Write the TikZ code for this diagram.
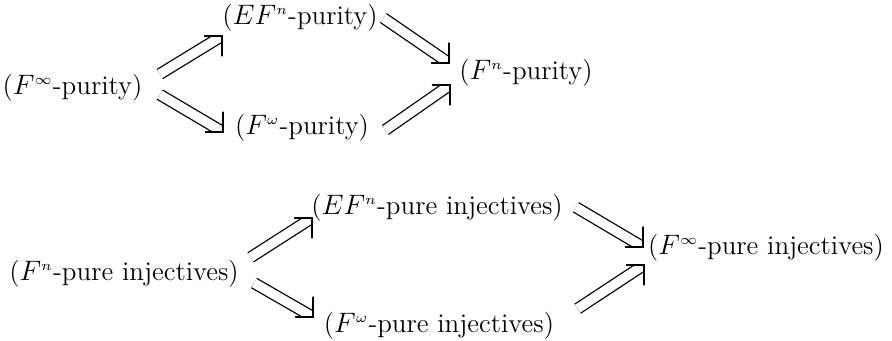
\documentclass[tikz,border=0pt]{standalone}
\usepackage{amsmath}
\usepackage{amssymb}

\tikzset{
  lbl/.style={inner sep=0pt, font=\fontsize{11.5}{14}\selectfont},
  dbl/.style={double, double distance=4pt, line width=0.55pt},
  hd/.style={line width=0.55pt, line cap=round},
}

% double arrow with a square head: #1 tail, #2 tip, #3 = -1 (up) or 1 (down)
\newcommand{\dimp}[3]{%
  \begin{scope}
    \clip (#2) rectangle ++(-2,#3*2);
    \draw[dbl] (#1) -- (#2);
  \end{scope}
  \draw[hd] ([xshift=-7.5pt]#2) -- (#2) -- ([yshift=#3*8.5pt]#2);}
\newcommand{\sps}[1]{^{\scriptscriptstyle #1}}

\begin{document}
\begin{tikzpicture}
  \useasboundingbox (0,0) rectangle (13.38,-5.115);

  % purity
  \node[lbl] (inf) at (1.088,-1.32) {($F\sps{\infty}$-purity)};
  \node[lbl] (efn) at (4.5,-0.27) {($EF\sps{n}$-purity)};
  \node[lbl] (om) at (4.53,-1.92) {($F\sps{\omega}$-purity)};
  \node[lbl] (fn) at (7.89,-1.095) {($F\sps{n}$-purity)};

  \coordinate (t1) at ([shift={(1.31,0.21)}]inf.center);
  \coordinate (h1) at ([shift={(-1.17,-0.27)}]efn.center);
  \coordinate (t2) at ([shift={(1.31,-0.10)}]inf.center);
  \coordinate (h2) at ([shift={(-1.185,-0.06)}]om.center);
  \coordinate (t3) at ([shift={(1.25,0)}]efn.center);
  \coordinate (h3) at ([shift={(-1.155,0.15)}]fn.center);
  \coordinate (t4) at ([shift={(1.25,-0.03)}]om.center);
  \coordinate (h4) at ([shift={(-1.14,-0.18)}]fn.center);

  \dimp{t1}{h1}{-1}
  \dimp{t2}{h2}{1}
  \dimp{t3}{h3}{1}
  \dimp{t4}{h4}{-1}

  % pure injectives
  \node[lbl] (fnp) at (1.86,-4.11) {($F\sps{n}$-pure injectives)};
  \node[lbl] (efnp) at (6.555,-3.12) {($EF\sps{n}$-pure injectives)};
  \node[lbl] (omp) at (6.585,-4.89) {($F\sps{\omega}$-pure injectives)};
  \node[lbl] (infp) at (11.49,-3.72) {($F\sps{\infty}$-pure injectives)};

  \coordinate (t5) at ([shift={(1.90,0.25)}]fnp.center);
  \coordinate (h5) at ([shift={(-1.875,-0.15)}]efnp.center);
  \coordinate (t6) at ([shift={(1.95,-0.135)}]fnp.center);
  \coordinate (h6) at ([shift={(-1.89,0.135)}]omp.center);
  \coordinate (t7) at ([shift={(2.085,0.01)}]efnp.center);
  \coordinate (h7) at ([shift={(-1.845,0.015)}]infp.center);
  \coordinate (t8) at ([shift={(2.08,0.26)}]omp.center);
  \coordinate (h8) at ([shift={(-1.83,-0.255)}]infp.center);

  \dimp{t5}{h5}{-1}
  \dimp{t6}{h6}{1}
  \dimp{t7}{h7}{1}
  \dimp{t8}{h8}{-1}
\end{tikzpicture}
\end{document}
